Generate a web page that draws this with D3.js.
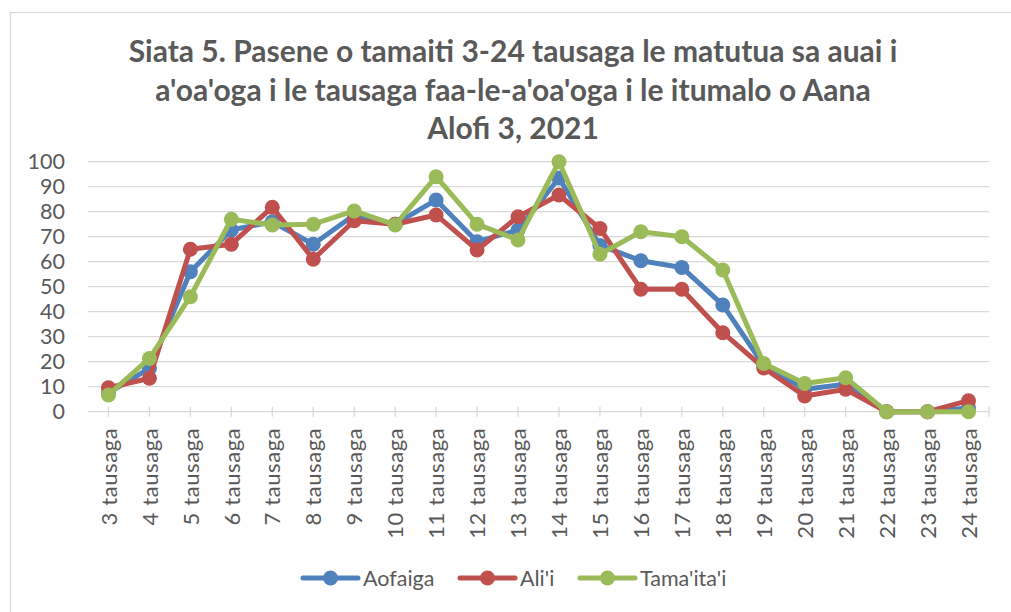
<!DOCTYPE html>
<html>
<head>
<meta charset="utf-8">
<script src="https://cdn.jsdelivr.net/npm/d3@7"></script>
<style>
  body { margin: 0; background: #fff; }
  svg { display: block; font-family: Lato, "Open Sans", sans-serif; }
</style>
</head>
<body>
<div id="wrapper"></div>
<script>
const titleLines = [
  "Siata 5. Pasene o tamaiti 3-24 tausaga le matutua sa auai i",
  "a'oa'oga i le tausaga faa-le-a'oa'oga i le itumalo o Aana",
  "Alofi 3, 2021"
]

const categories = ["3 tausaga", "4 tausaga", "5 tausaga", "6 tausaga", "7 tausaga", "8 tausaga",
  "9 tausaga", "10 tausaga", "11 tausaga", "12 tausaga", "13 tausaga", "14 tausaga",
  "15 tausaga", "16 tausaga", "17 tausaga", "18 tausaga", "19 tausaga", "20 tausaga",
  "21 tausaga", "22 tausaga", "23 tausaga", "24 tausaga"]

const aofaiga = [7.5, 17.3, 56, 72.7, 76, 67, 78.7, 75, 84.7, 68, 72.7, 93.5, 66.5, 60.4, 57.7, 42.7, 18.5, 9, 11, 0, 0, 1.5]
const alii = [9.6, 13.4, 65, 67, 81.8, 61, 76.4, 75, 78.7, 64.7, 78, 86.7, 73.3, 49, 49, 31.6, 17.5, 6.3, 9, 0, 0, 4.4]
const tamaitai = [6.7, 21.3, 46, 77, 74.7, 75, 80.3, 74.7, 94, 75, 68.7, 100, 63, 72, 70, 56.7, 19.3, 11.3, 13.6, 0, 0, 0]

const seriesNames = ["Aofaiga", "Ali'i", "Tama'ita'i"]
const seriesColors = ["#4f81bd", "#c0504d", "#9bbb59"]
const yTicks = [0, 10, 20, 30, 40, 50, 60, 70, 80, 90, 100]

function draw() {
  const dimensions = {
    width: 1011,
    height: 612,
    plotLeft: 88,
    plotRight: 989,
    plotTop: 161.7,
    plotBottom: 411.7
  }

  const wrapper = d3.select("#wrapper")
    .append("svg")
      .attr("width", dimensions.width)
      .attr("height", dimensions.height)

  // chart frame (only top and left edges fall inside the picture)
  wrapper.append("rect")
    .attr("x", 10.5)
    .attr("y", 12.5)
    .attr("width", 1010)
    .attr("height", 610)
    .attr("fill", "#fff")
    .attr("stroke", "#d9d9d9")
    .attr("stroke-width", 1.3)

  const title = wrapper.append("g")
    .attr("fill", "#595959")
    .attr("font-weight", "bold")
    .attr("font-size", 30)
    .attr("text-anchor", "middle")

  title.selectAll("text")
    .data(titleLines)
    .join("text")
      .attr("x", 513)
      .attr("y", (d, i) => 62 + i * 38.5)
      .text(d => d)

  const xScale = d3.scalePoint()
    .domain(categories)
    .range([dimensions.plotLeft, dimensions.plotRight])
    .padding(0.5)

  const yScale = d3.scaleLinear()
    .domain([0, 100])
    .range([dimensions.plotBottom, dimensions.plotTop])

  // gridlines
  wrapper.append("g")
    .selectAll("line")
    .data(yTicks)
    .join("line")
      .attr("x1", dimensions.plotLeft)
      .attr("x2", dimensions.plotRight)
      .attr("y1", d => yScale(d))
      .attr("y2", d => yScale(d))
      .attr("stroke", "#d9d9d9")
      .attr("stroke-width", 1.3)

  const yAxis = wrapper.append("g")
    .attr("transform", `translate(${dimensions.plotLeft - 23}, 0)`)
    .call(d3.axisLeft(yScale).tickValues(yTicks).tickSize(0).tickPadding(0))
  yAxis.select(".domain").remove()
  yAxis.selectAll("text")
    .attr("fill", "#595959")
    .attr("font-size", 21.5)
    .attr("font-family", "Lato, sans-serif")

  const xAxis = wrapper.append("g")
    .attr("transform", `translate(0, ${dimensions.plotBottom})`)
    .call(d3.axisBottom(xScale).tickSize(0).tickPadding(0))
  xAxis.select(".domain").remove()
  xAxis.selectAll(".tick text")
    .attr("fill", "#595959")
    .attr("font-size", 22)
    .attr("letter-spacing", 0.6)
    .attr("font-family", "Lato, sans-serif")
    .attr("text-anchor", "end")
    .attr("dy", "0.35em")
    .attr("transform", "translate(0, 16) rotate(-90)")
    .attr("y", 0)

  // x tick marks crossing the axis line, plus one at the right end
  const tickXs = categories.map(c => xScale(c)).concat([dimensions.plotRight])
  wrapper.append("g")
    .selectAll("line")
    .data(tickXs)
    .join("line")
      .attr("x1", d => d)
      .attr("x2", d => d)
      .attr("y1", dimensions.plotBottom - 5)
      .attr("y2", dimensions.plotBottom + 5)
      .attr("stroke", "#d9d9d9")
      .attr("stroke-width", 1.3)

  const seriesData = [aofaiga, alii, tamaitai]

  const lineGenerator = d3.line()
    .x((d, i) => xScale(categories[i]))
    .y(d => yScale(d))

  const seriesGroups = wrapper.append("g")
    .selectAll("g")
    .data(seriesData)
    .join("g")

  seriesGroups.append("path")
    .attr("d", d => lineGenerator(d))
    .attr("fill", "none")
    .attr("stroke", (d, i) => seriesColors[i])
    .attr("stroke-width", 5)
    .attr("stroke-linejoin", "round")
    .attr("stroke-linecap", "round")

  seriesGroups.each(function(values, s) {
    d3.select(this).selectAll("circle")
      .data(values)
      .join("circle")
        .attr("cx", (d, i) => xScale(categories[i]))
        .attr("cy", d => yScale(d))
        .attr("r", 7.5)
        .attr("fill", seriesColors[s])
  })

  // legend
  const legendXs = [303, 460, 580]
  const legend = wrapper.append("g")
    .selectAll("g")
    .data(seriesNames)
    .join("g")
      .attr("transform", (d, i) => `translate(${legendXs[i]}, 578)`)

  legend.append("line")
    .attr("x1", 0)
    .attr("x2", 55)
    .attr("stroke", (d, i) => seriesColors[i])
    .attr("stroke-width", 5)
    .attr("stroke-linecap", "round")

  legend.append("circle")
    .attr("cx", 27.5)
    .attr("r", 7.5)
    .attr("fill", (d, i) => seriesColors[i])

  legend.append("text")
    .attr("x", 60)
    .attr("dy", "0.35em")
    .attr("fill", "#595959")
    .attr("font-size", 21.5)
    .text(d => d)
}

draw()
</script>
</body>
</html>
